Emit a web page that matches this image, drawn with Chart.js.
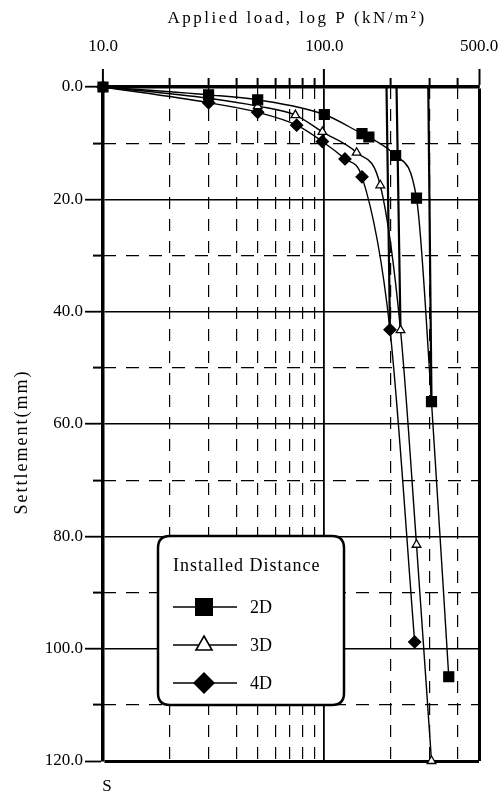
<!DOCTYPE html>
<html><head><meta charset="utf-8">
<script src="https://cdn.jsdelivr.net/npm/chart.js@4.4.0/dist/chart.umd.min.js"></script>
<style>html,body{margin:0;padding:0;background:#fff}#wrap{width:501px;height:794px;position:relative}</style>
</head><body><div id="wrap"><canvas id="c" width="501" height="794"></canvas></div>
<script>
// ---- data ----
const seriesNames = ['2D', '3D', '4D'];
const loads2D  = [10, 30, 50, 100, 148, 159, 210, 261, 305, 365];
const settle2D = [0, 1.4, 2.3, 4.9, 8.3, 8.9, 12.2, 19.8, 56, 105];
const loads3D  = [10, 30, 50, 74, 98, 140, 179, 221, 261, 305];
const settle3D = [0, 2.0, 3.4, 5.0, 8.0, 11.7, 17.5, 43.3, 81.5, 120];
const loads4D  = [10, 30, 50, 75, 98, 124, 148, 198, 256];
const settle4D = [0, 2.8, 4.5, 6.8, 9.7, 12.8, 16, 43.2, 98.8];
// straight extension lines drawn up to the load axis
const extLoads2D = [295, 305], extSettle2D = [0, 56];
const extLoads3D = [212, 221], extSettle3D = [0, 43.3];
const extLoads4D = [191, 198], extSettle4D = [0, 43.2];
// axes
const xMajorTicks = [10, 100, 500];
const xMinorTicks = [20, 30, 40, 50, 60, 70, 80, 90, 200, 300, 400];
const yMajorTicks = [0, 20, 40, 60, 80, 100, 120];
const yMinorTicks = [10, 30, 50, 70, 90, 110];
const xTitle = 'Applied load, log P (kN/m\u00B2)';
const yTitle = 'Settlement(mm)';
const bottomLabel = 'S';
const legendTitle = 'Installed Distance';

const pts = (xs, ys) => xs.map((x, i) => ({x: x, y: ys[i]}));
const SERIF = '"Liberation Serif", "Times New Roman", serif';

const seriesStyle = (label, data, style, radius, bg) => ({
  label, data, borderColor: '#000', borderWidth: 1.4, pointStyle: style,
  pointRadius: radius, pointBackgroundColor: bg, pointBorderColor: '#000',
  pointBorderWidth: 1.3, cubicInterpolationMode: 'monotone', clip: false, fill: false
});
const extStyle = (data) => ({
  label: '', data, borderColor: '#000', borderWidth: 2.2, pointRadius: 0, fill: false, clip: false
});

const decor = {
  id: 'decor',
  afterDraw(chart) {
    const ctx = chart.ctx;
    ctx.save();
    ctx.fillStyle = '#000';
    ctx.textAlign = 'center';
    ctx.textBaseline = 'middle';
    ctx.font = '17px ' + SERIF;
    ctx.letterSpacing = '2.5px';
    ctx.fillText(xTitle, 297, 19);
    ctx.save();
    ctx.translate(22, 442);
    ctx.rotate(-Math.PI / 2);
    ctx.letterSpacing = '2px';
    ctx.font = '18px ' + SERIF;
    ctx.fillText(yTitle, 0, 0);
    ctx.restore();
    ctx.letterSpacing = '0px';
    ctx.font = '17px ' + SERIF;
    ctx.fillText(bottomLabel, 107, 787);

    // legend box
    const L = 158, T = 536, R = 344, B = 705, r = 12;
    ctx.beginPath();
    ctx.moveTo(L + r, T); ctx.lineTo(R - r, T); ctx.quadraticCurveTo(R, T, R, T + r);
    ctx.lineTo(R, B - r); ctx.quadraticCurveTo(R, B, R - r, B);
    ctx.lineTo(L + r, B); ctx.quadraticCurveTo(L, B, L, B - r);
    ctx.lineTo(L, T + r); ctx.quadraticCurveTo(L, T, L + r, T);
    ctx.closePath();
    ctx.fillStyle = '#fff'; ctx.fill();
    ctx.lineWidth = 2.5; ctx.strokeStyle = '#000'; ctx.stroke();

    ctx.fillStyle = '#000';
    ctx.textAlign = 'left';
    ctx.font = '18px ' + SERIF;
    ctx.letterSpacing = '1px';
    ctx.fillText(legendTitle, 173, 566);
    ctx.letterSpacing = '0px';
    const rows = [607, 645, 683];
    const mx = 204;
    rows.forEach((y, i) => {
      ctx.beginPath(); ctx.lineWidth = 1.5; ctx.strokeStyle = '#000';
      ctx.moveTo(173, y); ctx.lineTo(237, y); ctx.stroke();
      ctx.beginPath();
      if (i === 0) {
        ctx.fillStyle = '#000'; ctx.fillRect(mx - 9, y - 9, 18, 18);
      } else if (i === 1) {
        ctx.moveTo(mx, y - 9); ctx.lineTo(mx + 8, y + 5); ctx.lineTo(mx - 8, y + 5); ctx.closePath();
        ctx.fillStyle = '#fff'; ctx.fill(); ctx.lineWidth = 1.6; ctx.stroke();
      } else {
        ctx.moveTo(mx, y - 11); ctx.lineTo(mx + 11, y); ctx.lineTo(mx, y + 11); ctx.lineTo(mx - 11, y); ctx.closePath();
        ctx.fillStyle = '#000'; ctx.fill();
      }
      ctx.fillStyle = '#000';
      ctx.font = '18px ' + SERIF;
      ctx.fillText(seriesNames[i], 250, y + 1);
    });
    ctx.restore();
  }
};

new Chart(document.getElementById('c'), {
  type: 'line',
  data: {
    datasets: [
      seriesStyle(seriesNames[0], pts(loads2D, settle2D), 'rect', 7, '#000'),
      seriesStyle(seriesNames[1], pts(loads3D, settle3D), 'triangle', 5, '#fff'),
      seriesStyle(seriesNames[2], pts(loads4D, settle4D), 'rectRot', 6, '#000'),
      extStyle(pts(extLoads2D, extSettle2D)),
      extStyle(pts(extLoads3D, extSettle3D)),
      extStyle(pts(extLoads4D, extSettle4D))
    ]
  },
  options: {
    responsive: false,
    animation: false,
    layout: {padding: {left: 0, right: 22, top: 0, bottom: 33}},
    plugins: {legend: {display: false}, tooltip: {enabled: false}},
    scales: {
      x: {
        type: 'logarithmic', position: 'top', min: 10, max: 500, weight: 1,
        afterBuildTicks: s => { s.ticks = xMajorTicks.map(v => ({value: v})); },
        afterFit: s => { s.height = 87; s.paddingLeft = 0; s.paddingRight = 0; },
        ticks: {
          autoSkip: false, maxRotation: 0, padding: 12, color: '#000',
          font: {family: SERIF, size: 17},
          callback: v => Number(v).toFixed(1)
        },
        grid: {
          color: '#000', tickColor: '#000', tickLength: 18, tickWidth: 2,
          lineWidth: c => (c.tick && c.tick.value === 500) ? 3 : 1.8
        },
        border: {display: true, color: '#000', width: 3.5}
      },
      x2: {
        type: 'logarithmic', position: 'top', min: 10, max: 500, weight: 0,
        afterBuildTicks: s => { s.ticks = xMinorTicks.map(v => ({value: v})); },
        afterFit: s => { s.height = 0; s.paddingLeft = 0; s.paddingRight = 0; },
        ticks: {display: false},
        grid: {color: '#000', tickColor: '#000', tickLength: 9, tickWidth: 2, lineWidth: 1.2},
        border: {display: false, dash: [12, 10]}
      },
      y: {
        type: 'linear', position: 'left', reverse: true, min: 0, max: 120, weight: 1,
        afterBuildTicks: s => { s.ticks = yMajorTicks.map(v => ({value: v})); },
        afterFit: s => { s.width = 103; s.paddingTop = 0; s.paddingBottom = 0; },
        ticks: {
          autoSkip: false, padding: 2, color: '#000',
          font: {family: SERIF, size: 17},
          callback: v => Number(v).toFixed(1)
        },
        grid: {
          color: '#000', tickColor: '#000', tickLength: 18, tickWidth: 1.8,
          lineWidth: c => (c.tick && c.tick.value === 120) ? 3 : 1.4
        },
        border: {display: true, color: '#000', width: 3.5}
      },
      y2: {
        type: 'linear', position: 'left', reverse: true, min: 0, max: 120, weight: 0,
        afterBuildTicks: s => { s.ticks = yMinorTicks.map(v => ({value: v})); },
        afterFit: s => { s.width = 0; s.paddingTop = 0; s.paddingBottom = 0; },
        ticks: {display: false},
        grid: {color: '#000', tickColor: '#000', tickLength: 10, tickWidth: 2, lineWidth: 1.2},
        border: {display: false, dash: [13, 10]}
      }
    }
  },
  plugins: [decor]
});
</script>
</body></html>
